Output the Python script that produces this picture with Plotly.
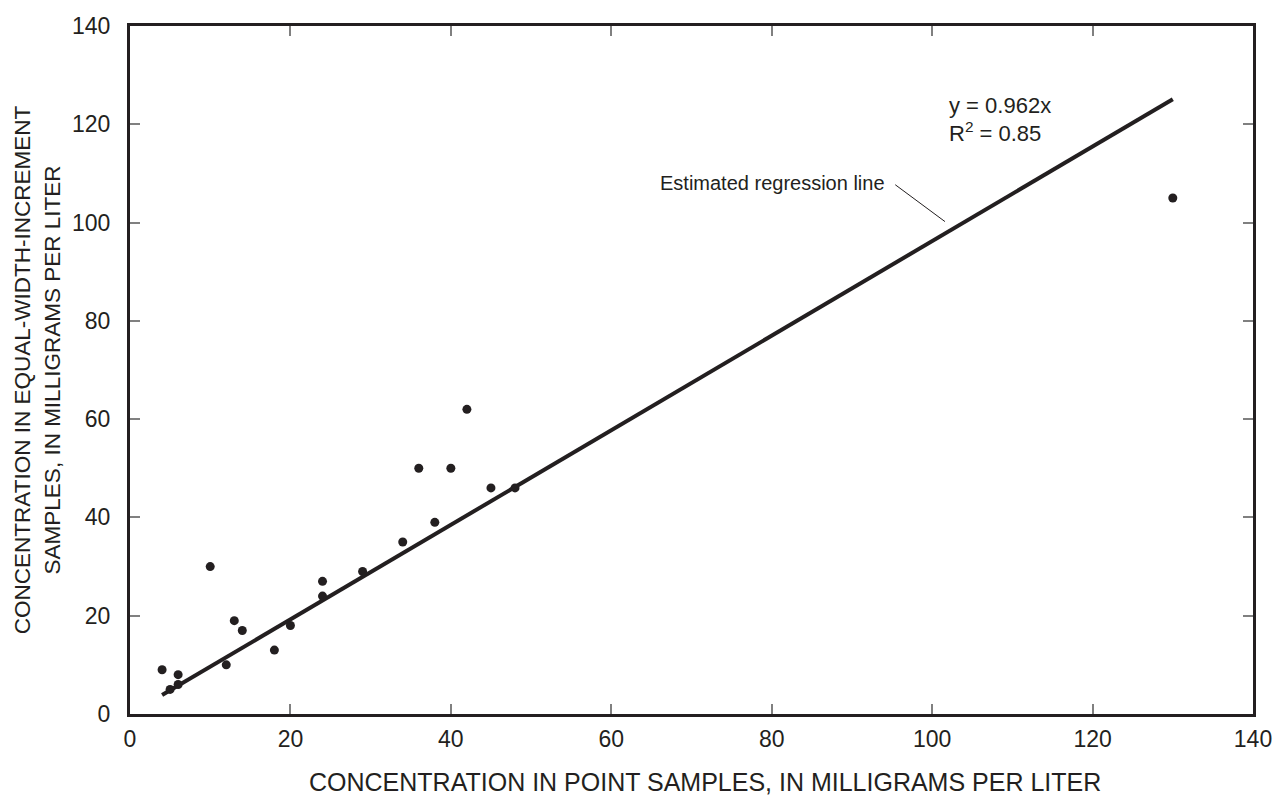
import plotly.graph_objects as go

# Observed samples (point vs equal-width-increment concentrations, mg/L)
point_conc = [4, 5, 6, 6, 10, 12, 13, 14, 18, 20, 24, 24, 29, 34, 36, 38, 40, 42, 45, 48, 130]
ewi_conc = [9, 5, 8, 6, 30, 10, 19, 17, 13, 18, 27, 24, 29, 35, 50, 39, 50, 62, 46, 46, 105]

# Estimated regression line endpoints (y = 0.962x)
reg_x = [4, 130]
reg_y = [3.85, 125.1]

# Leader line from label to regression line
leader_x = [95.4, 101.6]
leader_y = [107.7, 100.2]

x_ticks = [0, 20, 40, 60, 80, 100, 120, 140]
y_ticks = [0, 20, 40, 60, 80, 100, 120, 140]

x_title = "CONCENTRATION IN POINT SAMPLES, IN MILLIGRAMS PER LITER"
y_title = "CONCENTRATION IN EQUAL-WIDTH-INCREMENT<br>SAMPLES, IN MILLIGRAMS PER LITER"

INK = "#231f20"
FONT = "Liberation Sans, Arial, Helvetica, sans-serif"

fig = go.Figure()
fig.add_trace(go.Scatter(x=reg_x, y=reg_y, mode="lines",
                         line=dict(color=INK, width=4), showlegend=False, hoverinfo="skip"))
fig.add_trace(go.Scatter(x=leader_x, y=leader_y, mode="lines",
                         line=dict(color=INK, width=1), showlegend=False, hoverinfo="skip"))
fig.add_trace(go.Scatter(x=point_conc, y=ewi_conc, mode="markers",
                         marker=dict(color=INK, size=9), showlegend=False))

axis_common = dict(
    showgrid=False, zeroline=False, showline=True, linewidth=3, linecolor=INK,
    mirror="ticks", ticks="inside", ticklen=10, tickwidth=1.5, tickcolor="#808080",
    tickfont=dict(family=FONT, size=23, color=INK), automargin=False,
)

fig.update_xaxes(range=[0, 140], tickvals=x_ticks, ticktext=[str(v) for v in x_ticks],
                 ticklabelstandoff=2, **axis_common)
fig.update_yaxes(range=[0, 140], tickvals=y_ticks, ticktext=[str(v) for v in y_ticks],
                 ticklabelstandoff=12,
                 title=dict(text=y_title, font=dict(family=FONT, size=22.5, color=INK), standoff=6),
                 **axis_common)

# x-axis title (placed slightly right of plot centre, as in the source figure)
fig.add_annotation(x=0.512, y=-0.0988, xref="paper", yref="paper", text=x_title,
                   showarrow=False, xanchor="center", yanchor="middle", borderpad=0,
                   font=dict(family=FONT, size=25, color=INK))

fig.add_annotation(x=94.2, y=108.1, text="Estimated regression line", showarrow=False,
                   xanchor="right", yanchor="middle", borderpad=0,
                   font=dict(family=FONT, size=20, color=INK))
fig.add_annotation(x=102.0, y=123.9, text="y = 0.962x", showarrow=False,
                   xanchor="left", yanchor="middle", borderpad=0,
                   font=dict(family=FONT, size=22, color=INK))
fig.add_annotation(x=102.0, y=118.4, text="R<sup>2</sup> = 0.85", showarrow=False,
                   xanchor="left", yanchor="middle", borderpad=0,
                   font=dict(family=FONT, size=22, color=INK))

fig.update_layout(
    width=1281, height=797,
    margin=dict(l=130, r=28, t=26, b=83),
    paper_bgcolor="white", plot_bgcolor="white",
    font=dict(family=FONT, color=INK),
)

fig.write_html("out.html")
